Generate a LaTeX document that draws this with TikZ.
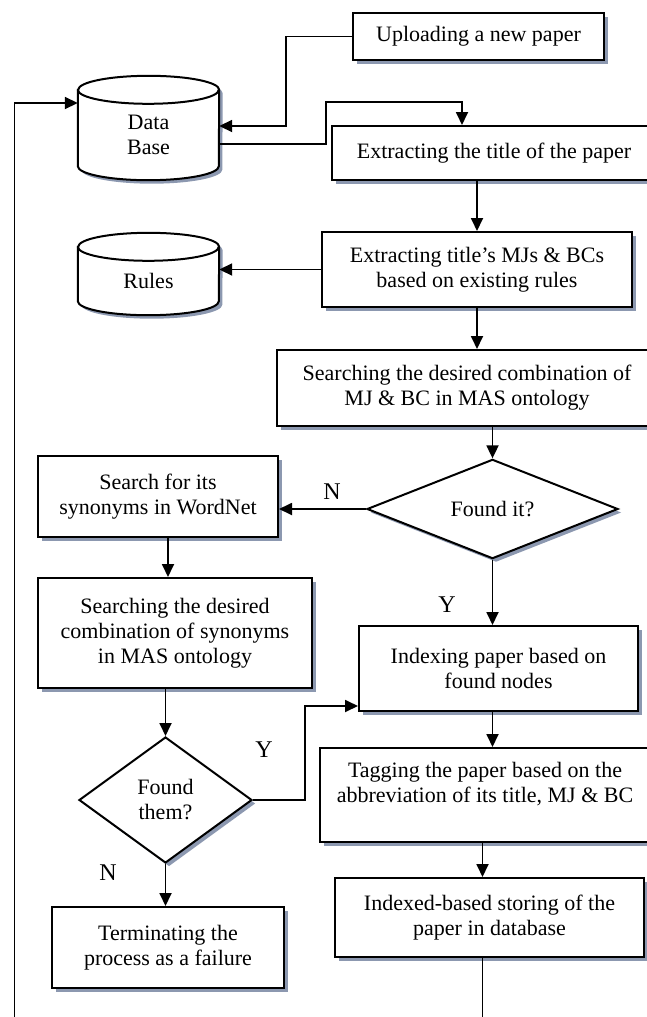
\documentclass[tikz,border=0pt]{standalone}
\usepackage{fontspec}
\setmainfont{Liberation Serif}
\usetikzlibrary{shapes.geometric,shadows,arrows.meta,backgrounds}
\definecolor{shadowc}{RGB}{140,152,176}
\begin{document}
\begin{tikzpicture}[x=1pt,y=1pt,
  every node/.style={font=\fontsize{22}{25}\selectfont},
  shad/.style={drop shadow={shadow xshift=3.5pt,shadow yshift=-3.5pt,fill=shadowc,opacity=1}},
  box/.style={draw,line width=2pt,fill=white,shad,align=center,inner sep=0pt},
  dec/.style={diamond,draw,line width=2pt,fill=white,shad,align=center,inner sep=0pt},
  cyl/.style={align=center,inner sep=0pt,minimum width=141pt},
  cylline/.style={draw,line width=2pt,fill=white,shad},
  arr/.style={line width=1.8pt,-{Triangle[length=13pt,width=12pt]}},
  ln/.style={line width=1.8pt},
  lab/.style={font=\fontsize{24}{27}\selectfont}]
\useasboundingbox (0,0) rectangle (647,-1017);
\clip (0,0) rectangle (647,-1017);

\node[box,minimum width=251pt,minimum height=47pt] (upload) at (478.5,-36.5) {Uploading a new paper};
\node[cyl,minimum height=90pt] (db) at (148.5,-135) {Data\\Base};
\node[box,minimum width=324pt,minimum height=54pt] (title) at (494,-153) {Extracting the title of the paper};
\node[cyl,minimum height=68pt] (rules) at (148.5,-281) {Rules};
\node[box,minimum width=310pt,minimum height=75pt] (mj) at (477,-269.5) {Extracting title’s MJs \& BCs\\based on existing rules};
\node[box,minimum width=380pt,minimum height=76pt] (search) at (467,-388) {Searching the desired combination of\\MJ \& BC in MAS ontology};
\node[dec,minimum width=251pt,minimum height=82pt] (found) at (492.5,-509) {Found it?};
\node[box,minimum width=240pt,minimum height=81pt] (wordnet) at (158,-496.5) {Search for its\\synonyms in WordNet};
\node[box,minimum width=274pt,minimum height=110pt] (syn) at (175,-633) {Searching the desired\\combination of synonyms\\in MAS ontology};
\node[box,minimum width=279pt,minimum height=85pt] (idx) at (498.5,-668.5) {Indexing paper based on\\found nodes};
\node[dec,minimum width=173pt,minimum height=126pt] (them) at (165.5,-800) {Found\\them?};
\node[box,minimum width=330pt,minimum height=94pt] (tag) at (485,-795) {Tagging the paper based on the\\abbreviation of its title, MJ \& BC\\ \mbox{}};
\node[box,minimum width=309pt,minimum height=79pt] (store) at (489.5,-917.5) {Indexed-based storing of the\\paper in database};
\node[box,minimum width=232pt,minimum height=81pt] (term) at (168,-947.5) {Terminating the\\process as a failure};

\begin{scope}[on background layer]
\path[cylline] (db.north west) -- ([yshift=14pt]db.south west)
  arc[start angle=180,end angle=360,x radius=70.5pt,y radius=14pt]
  -- (db.north east)
  arc[start angle=0,end angle=180,x radius=70.5pt,y radius=14pt] -- cycle;
\draw[line width=2pt] (db.north west) arc[start angle=180,end angle=360,x radius=70.5pt,y radius=14pt];
\path[cylline] (rules.north west) -- ([yshift=14pt]rules.south west)
  arc[start angle=180,end angle=360,x radius=70.5pt,y radius=14pt]
  -- (rules.north east)
  arc[start angle=0,end angle=180,x radius=70.5pt,y radius=14pt] -- cycle;
\draw[line width=2pt] (rules.north west) arc[start angle=180,end angle=360,x radius=70.5pt,y radius=14pt];
\end{scope}

\node[lab] (nlab1) at (332,-492) {N};
\node[lab] (ylab1) at (447,-605) {Y};
\node[lab] (ylab2) at (264,-750) {Y};
\node[lab] (nlab2) at (108,-873) {N};

\coordinate (bot) at (0,-1030);
\coordinate (loopstart) at (14.4,-1030);

\draw[arr] (upload.west) -- ++(-66,0) |- ([yshift=9pt]db.east);
\draw[arr] ([yshift=-9pt]db.east) -- ++(107,0) |- ([xshift=-32pt,yshift=23pt]title.north) -- ([xshift=-32pt]title.north);
\draw[arr] (mj.north |- title.south) -- (mj.north);
\draw[arr] (mj.west) -- (mj.west -| rules.east);
\draw[arr] (mj.south) -- (mj.south |- search.north);
\draw[arr] (found.north |- search.south) -- (found.north);
\draw[arr] (found.west) -- (found.west -| wordnet.east);
\draw[arr] ([xshift=10pt]wordnet.south) -- ([xshift=10pt]wordnet.south |- syn.north);
\draw[arr] (them.north |- syn.south) -- (them.north);
\draw[arr] (found.south) -- (found.south |- idx.north);
\draw[arr] (them.east) -- ++(52,0) |- ([yshift=-37.5pt]idx.west);
\draw[arr] (found.south |- idx.south) -- (found.south |- tag.north);
\draw[arr] ([xshift=-7pt]store.north |- tag.south) -- ([xshift=-7pt]store.north);
\draw[arr] (them.south) -- (them.south |- term.north);
\draw[ln] ([xshift=-7pt]store.south) -- ([xshift=-7pt]store.south |- bot);
\draw[arr] (loopstart) |- ([yshift=32pt]db.west);
\end{tikzpicture}
\end{document}
